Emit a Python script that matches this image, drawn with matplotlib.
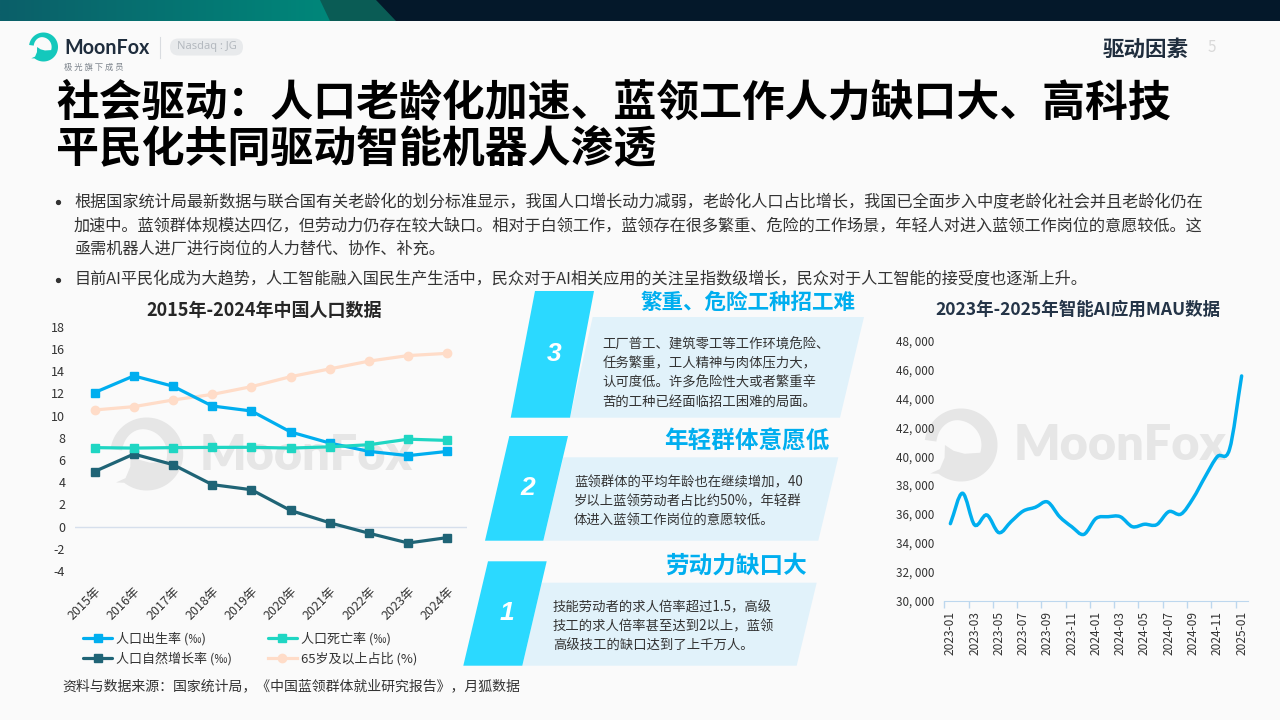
import numpy as np
import matplotlib
matplotlib.use("Agg")
import matplotlib.pyplot as plt
from matplotlib.path import Path
from matplotlib.patches import PathPatch, Polygon, FancyBboxPatch
from matplotlib.colors import LinearSegmentedColormap
from matplotlib.transforms import ScaledTranslation

CJK = ['Noto Sans CJK SC', 'DejaVu Sans']
plt.rcParams['font.family'] = CJK
plt.rcParams['axes.unicode_minus'] = False

# ---- data ----
years = ['2015年', '2016年', '2017年', '2018年', '2019年', '2020年', '2021年', '2022年', '2023年', '2024年']
birth_rate = [12.07, 13.57, 12.64, 10.86, 10.41, 8.52, 7.52, 6.77, 6.39, 6.77]
death_rate = [7.11, 7.07, 7.11, 7.13, 7.14, 7.07, 7.18, 7.37, 7.87, 7.76]
natural_rate = [4.96, 6.53, 5.58, 3.78, 3.32, 1.45, 0.34, -0.60, -1.48, -0.99]
aged_share = [10.5, 10.8, 11.4, 11.9, 12.6, 13.5, 14.2, 14.9, 15.4, 15.6]
left_ticks = [-4, -2, 0, 2, 4, 6, 8, 10, 12, 14, 16, 18]

months = ['2023-01', '2023-02', '2023-03', '2023-04', '2023-05', '2023-06', '2023-07', '2023-08', '2023-09',
          '2023-10', '2023-11', '2023-12', '2024-01', '2024-02', '2024-03', '2024-04', '2024-05', '2024-06',
          '2024-07', '2024-08', '2024-09', '2024-10', '2024-11', '2024-12', '2025-01']
mau = [35340, 37440, 35250, 35940, 34720, 35480, 36210, 36470, 36840, 35820, 35130, 34600, 35700,
       35820, 35820, 35130, 35300, 35270, 36170, 36000, 37090, 38590, 39970, 40470, 45540]
right_ticks = [30000, 32000, 34000, 36000, 38000, 40000, 42000, 44000, 46000, 48000]

title_lines = ['社会驱动：人口老龄化加速、蓝领工作人力缺口大、高科技', '平民化共同驱动智能机器人渗透']
bullet_lines = [
    '根据国家统计局最新数据与联合国有关老龄化的划分标准显示，我国人口增长动力减弱，老龄化人口占比增长，我国已全面步入中度老龄化社会并且老龄化仍在',
    '加速中。蓝领群体规模达四亿，但劳动力仍存在较大缺口。相对于白领工作，蓝领存在很多繁重、危险的工作场景，年轻人对进入蓝领工作岗位的意愿较低。这',
    '亟需机器人进厂进行岗位的人力替代、协作、补充。',
    '目前AI平民化成为大趋势，人工智能融入国民生产生活中，民众对于AI相关应用的关注呈指数级增长，民众对于人工智能的接受度也逐渐上升。',
]
cards = [
    dict(num='3', head='繁重、危险工种招工难', lines=['工厂普工、建筑零工等工作环境危险、', '任务繁重，工人精神与肉体压力大，', '认可度低。许多危险性大或者繁重辛', '苦的工种已经面临招工困难的局面。']),
    dict(num='2', head='年轻群体意愿低', lines=['蓝领群体的平均年龄也在继续增加，40', '岁以上蓝领劳动者占比约50%，年轻群', '体进入蓝领工作岗位的意愿较低。']),
    dict(num='1', head='劳动力缺口大', lines=['技能劳动者的求人倍率超过1.5，高级', '技工的求人倍率甚至达到2以上，蓝领', '高级技工的缺口达到了上千万人。']),
]

# ---- style / layout ----
W, H = 1280, 720
BG = '#FAFAFA'
BLUE, TEAL, DARKTEAL, PEACH = '#00AEEF', '#1FD6C3', '#1F6476', '#FFDCC8'
CYAN, PALE = '#2BD9FF', '#E1F2FA'
INK = '#1F2D3D'
TXT = '#333333'

fig = plt.figure(figsize=(12.8, 7.2), dpi=100, facecolor=BG)
bg = fig.add_axes([0, 0, 1, 1], zorder=0)
bg.set_xlim(0, W); bg.set_ylim(H, 0); bg.axis('off')


def px_axes(x0, y0, x1, y1, z=2):
    ax = fig.add_axes([x0 / W, 1 - y1 / H, (x1 - x0) / W, (y1 - y0) / H], zorder=z)
    ax.patch.set_alpha(0)
    return ax


# top band
bg.add_patch(Polygon([(0, 0), (W, 0), (W, 21), (0, 21)], fc='#04182A', ec='none'))
cmap = LinearSegmentedColormap.from_list('band', ['#0B5F69', '#00877A'])
bg.imshow(np.linspace(0, 1, 256)[None, :], extent=(0, 330, 21, 0), cmap=cmap, aspect='auto', zorder=1)
bg.set_xlim(0, W); bg.set_ylim(H, 0)
bg.add_patch(Polygon([(320, 0), (376, 0), (396, 21), (330, 21)], fc='#0A5C55', ec='none', zorder=2))


def logo(cx, cy, R, color, z=1):
    t1 = np.radians(np.linspace(172, -128, 90))
    outer = np.c_[np.cos(t1), np.sin(t1)]
    tail = np.array([[-0.84, -0.78], [-0.58, -0.66], [-0.45, -0.35], [-0.44, 0.0]])
    cut = np.array([[-0.2, -0.16], [0.1, -0.24], [0.56, -0.21]])
    t2 = np.radians(np.linspace(-18, 172, 50))
    inner = np.c_[-0.12 + 0.68 * np.cos(t2), 0.68 * np.sin(t2)]
    inner[:, 0] = inner[:, 0] * (1 - 0.15 * (inner[:, 0] < 0))
    pts = np.vstack([outer, tail, cut, inner])
    pts = np.c_[cx + R * pts[:, 0], cy - R * pts[:, 1]]
    bg.add_patch(Polygon(pts, closed=True, fc=color, ec='none', zorder=z))


# watermarks
WM = '#E6E6E6'
for cx, cy, tx in [(146.7, 454, 200), (961, 445, 1014)]:
    logo(cx, cy, 36.5, WM)
    bg.text(tx, cy + 1, 'MoonFox', family='Lato', fontweight='heavy', fontsize=35, color=WM, va='center', ha='left', zorder=1)

# header
logo(43.5, 47, 14.5, '#14C8BC', z=3)
bg.text(64, 47.5, 'MoonFox', family='Lato', fontweight='bold', fontsize=14.2, color=INK, va='center', ha='left')
bg.plot([159.5, 159.5], [37, 58], color='#D9DCE0', lw=0.8)
bg.add_patch(FancyBboxPatch((170, 38.5), 73, 17, boxstyle='round,pad=0,rounding_size=8.5',
                            fc='#E8EAEC', ec='none'))
bg.text(206.5, 47, 'Nasdaq : JG', family='Noto Sans', fontsize=8, color='#B4B9BF', va='center', ha='center')
bg.text(64, 67, '极 光 旗 下 成 员', fontsize=6, color='#7F868E', va='center', ha='left')
bg.text(1189, 49, '驱动因素', fontsize=15.5, fontweight='bold', color=INK, va='center', ha='right')
bg.text(1212, 48, '5', fontsize=11, color='#D9D9D9', va='center', ha='center')

# title
for s, y in zip(title_lines, [102, 148]):
    bg.text(56, y, s, fontsize=30.9, fontweight='bold', color='black', va='center', ha='left')

# bullets
for s, y in zip(bullet_lines, [201.5, 226, 249.5, 279.5]):
    bg.text(74, y, s, fontsize=11.65, color=TXT, va='center', ha='left')
for y in [201.5, 279.5]:
    bg.plot([58], [y], 'o', ms=2.8, color=TXT)

# cards
card_geo = [
    dict(c=[(535, 291), (594, 291), (570, 417.7), (510.7, 417.7)], p=[(592.7, 317), (864, 317), (840, 417.7), (570, 417.7)],
         hx=856, hy=302, hs=15.5, bx=602.5, by=[344.3, 363.7, 382.7, 402], nxy=(554, 354)),
    dict(c=[(509.3, 436), (568, 436), (543.3, 540.7), (485, 540.7)], p=[(563.3, 457.3), (838.3, 457.3), (818.3, 540.7), (543.3, 540.7)],
         hx=830, hy=441, hs=17, bx=574, by=[482.7, 501.7, 520.7], nxy=(528, 488)),
    dict(c=[(488, 561.3), (546.7, 561.3), (522.3, 665.7), (463.3, 665.7)], p=[(541.7, 582.7), (816.7, 582.7), (796.7, 665.7), (522.3, 665.7)],
         hx=807, hy=566, hs=17, bx=553, by=[607.3, 626.7, 646], nxy=(506.5, 613)),
]
for card, g in zip(cards, card_geo):
    bg.add_patch(Polygon(g['p'], fc=PALE, ec='none'))
    bg.add_patch(Polygon(g['c'], fc=CYAN, ec='none'))
    bg.text(*g['nxy'], card['num'], family='Liberation Sans', style='italic', fontweight='bold', fontsize=19, color='white', va='center', ha='center')
    bg.text(g['hx'], g['hy'], card['head'], fontsize=g['hs'], fontweight='bold', color=BLUE, va='center', ha='right')
    for s, y in zip(card['lines'], g['by']):
        bg.text(g['bx'], y, s, fontsize=9.6, color=TXT, va='center', ha='left')

# source
bg.text(62, 686, '资料与数据来源：国家统计局，《中国蓝领群体就业研究报告》，月狐数据', fontsize=10, color=TXT, va='center', ha='left')

# ---- left chart ----
ax = px_axes(75, 326.7, 467, 571)
ax.set_ylim(-4, 18)
ax.set_xlim(-0.5, len(years) - 0.5)
x = np.arange(len(years))
sq = dict(marker='s', ms=6, lw=2.3, solid_capstyle='round')
l4, = ax.plot(x, aged_share, color=PEACH, marker='o', ms=6, lw=2.3, label='65岁及以上占比 (%)', zorder=3)
l1, = ax.plot(x, birth_rate, color=BLUE, label='人口出生率 (‰)', zorder=4, **sq)
l3, = ax.plot(x, natural_rate, color=DARKTEAL, label='人口自然增长率 (‰)', zorder=4, **sq)
l2, = ax.plot(x, death_rate, color=TEAL, label='人口死亡率 (‰)', zorder=5, **sq)
ax.axhline(0, color='#D6DFEC', lw=1, zorder=1)
for s in ax.spines.values():
    s.set_visible(False)
ax.set_yticks(left_ticks)
ax.set_xticks(x)
ax.set_xticklabels(years, rotation=45, ha='right', rotation_mode='anchor', fontsize=9, color=TXT)
shift = ScaledTranslation(-5 / 100, 0, fig.dpi_scale_trans)
for lab in ax.get_xticklabels():
    lab.set_transform(lab.get_transform() + shift)
ax.tick_params(axis='both', length=0)
ax.tick_params(axis='y', labelsize=9, labelcolor=TXT, pad=7)
ax.tick_params(axis='x', pad=10)
ax.set_title('2015年-2024年中国人口数据', x=(264.5 - 75) / 392, y=(326.7 - 310) / 244.3 + 1, va='center', pad=0,
             fontsize=13, fontweight='bold', color='#262626')
leg = ax.legend(handles=[l1, l3, l2, l4], ncol=2, loc='upper left', frameon=False, fontsize=9.4,
                bbox_to_anchor=(83, 632), bbox_transform=bg.transData, borderpad=0, borderaxespad=0,
                handlelength=2.25, handletextpad=0.3, columnspacing=2.7, labelspacing=0.5, labelcolor=TXT)

# ---- right chart ----
ar = px_axes(944.3, 340.3, 1247.7, 601)
ar.set_ylim(30000, 48000)
ar.set_xlim(-0.5, len(months) - 0.5)
xm = np.arange(len(months), dtype=float)
ym = np.asarray(mau, dtype=float)
# smooth line through the monthly values, as in the source chart
verts = [(xm[0], ym[0])]
codes = [Path.MOVETO]
for i in range(len(xm) - 1):
    d0 = (ym[i + 1] - ym[max(i - 1, 0)]) / (1 if i == 0 else 2)
    d1 = (ym[min(i + 2, len(ym) - 1)] - ym[i]) / (1 if i + 2 >= len(ym) else 2)
    verts += [(xm[i] + 1 / 3, ym[i] + d0 / 3), (xm[i + 1] - 1 / 3, ym[i + 1] - d1 / 3), (xm[i + 1], ym[i + 1])]
    codes += [Path.CURVE4] * 3
ar.add_patch(PathPatch(Path(verts, codes), fc='none', ec=BLUE, lw=2.5, capstyle='round'))
for name in ['top', 'right', 'left']:
    ar.spines[name].set_visible(False)
ar.spines['bottom'].set_color('#BDD7EE')
ar.set_yticks(right_ticks)
ar.set_yticklabels([f'{v:,}'.replace(',', ', ') for v in right_ticks], fontsize=8.4, color=TXT)
ar.tick_params(axis='y', length=0, pad=7)
ar.set_xticks(xm[::2])
ar.set_xticklabels(months[::2], rotation=90, fontsize=8.6, color=TXT)
ar.tick_params(axis='x', length=0, pad=7)
ar.set_xticks(xm[::2] - 0.5, minor=True)
ar.tick_params(axis='x', which='minor', length=5, color='#BDD7EE', width=1)
ar.set_title('2023年-2025年智能AI应用MAU数据', x=(1078 - 944.3) / 303.4, y=(340.3 - 310) / 260.7 + 1, va='center', pad=0,
             fontsize=12.6, fontweight='bold', color='#243447')

fig.savefig('out.png', dpi=100, facecolor=BG)
